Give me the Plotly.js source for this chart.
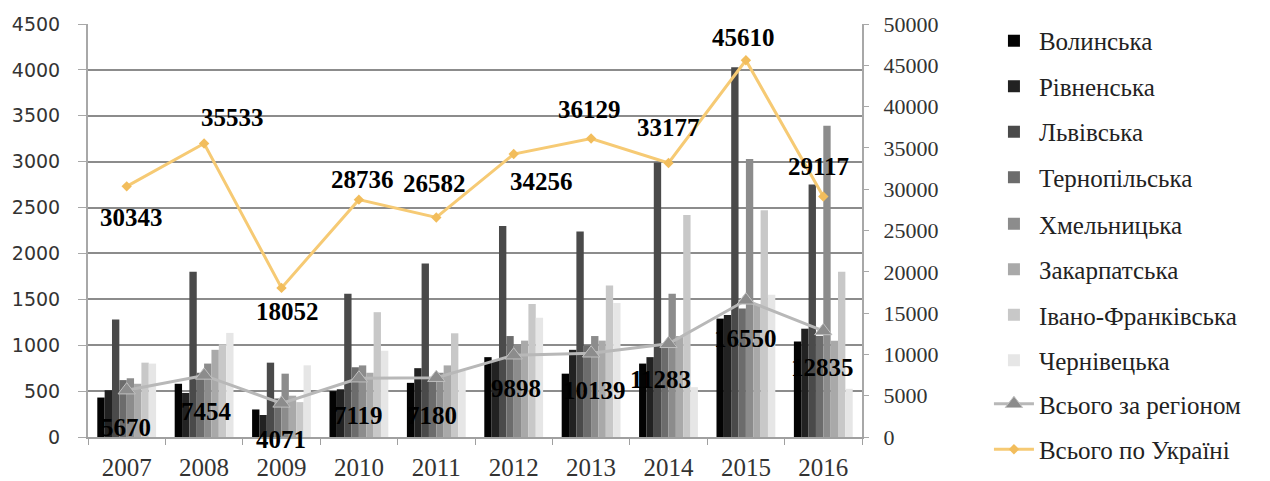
<!DOCTYPE html>
<html>
<head>
<meta charset="utf-8">
<script src="https://cdn.plot.ly/plotly-3.0.1.min.js"></script>
<style>html,body{margin:0;padding:0;background:#fff;}#chart{width:1270px;height:481px;}</style>
</head>
<body>
<div id="chart"></div>
<script>
// ---- data ----
const years = ["2007","2008","2009","2010","2011","2012","2013","2014","2015","2016"];
const regionNames = ["Волинська","Рівненська","Львівська","Тернопільська","Хмельницька","Закарпатська","Івано-Франківська","Чернівецька"];
const volynska      = [430, 580, 300, 500, 590, 870, 690, 800, 1290, 1040];
const rivnenska     = [510, 480, 240, 520, 750, 830, 950, 870, 1330, 1180];
const lvivska       = [1280, 1800, 810, 1560, 1890, 2300, 2240, 2990, 4030, 2750];
const ternopilska   = [620, 700, 420, 760, 620, 1100, 1000, 1000, 1400, 1100];
const khmelnytska   = [640, 800, 690, 780, 700, 1000, 1100, 1560, 3030, 3390];
const zakarpatska   = [580, 950, 450, 700, 780, 1050, 1050, 1100, 1450, 1050];
const ivanofrank    = [810, 1010, 380, 1360, 1130, 1450, 1650, 2420, 2470, 1800];
const chernivetska  = [800, 1134, 781, 939, 720, 1298, 1459, 543, 1550, 525];
const totalRegion   = [5670, 7454, 4071, 7119, 7180, 9898, 10139, 11283, 16550, 12835];
const totalUkraine  = [30343, 35533, 18052, 28736, 26582, 34256, 36129, 33177, 45610, 29117];
const lineNames = ["Всього за регіоном","Всього по Україні"];

// ---- styles ----
const barColors = ["#030303","#222222","#4a4a4a","#6c6c6c","#8c8c8c","#a9a9a9","#c8c8c8","#e6e6e6"];
const ukrShift = [[5,-31],[28,26],[6,-24],[4,20],[-2,34],[28,-27],[-2,29],[0,35],[-2,23],[-5,30]];
const regShift = [[-1,-37],[2,-36],[-1,-36],[0,-37],[-4,-38],[2,-33],[3,-37],[-8,-36],[0,-38],[-1,-37]];
const barLegend = ["legend","legend","legend","legend","legend2","legend2","legend2","legend2"];

const barSeries = [volynska, rivnenska, lvivska, ternopilska, khmelnytska, zakarpatska, ivanofrank, chernivetska];
const traces = barSeries.map((vals, i) => ({
  type: "bar", x: years, y: vals, name: regionNames[i],
  marker: {color: barColors[i], line: {width: 0}},
  legend: barLegend[i], legendgroup: "g" + i
}));
traces.push({
  type: "scatter", mode: "lines+markers", x: years, y: totalRegion, yaxis: "y2",
  name: lineNames[0], legend: "legend3", legendgroup: "g8",
  line: {color: "#b8b8b8", width: 3},
  marker: {symbol: "triangle-up", size: 15, color: "#8c8c8c", line: {color: "#c0c0c0", width: 1}}
});
traces.push({
  type: "scatter", mode: "lines+markers", x: years, y: totalUkraine, yaxis: "y2",
  name: lineNames[1], legend: "legend3", legendgroup: "g9",
  line: {color: "#f6ca74", width: 3},
  marker: {symbol: "diamond", size: 8, color: "#f2bd5c"}
});

const labelFont = {family: "Liberation Serif, Times New Roman, serif", size: 25, color: "#000"};
const annotations = [];
years.forEach((yr, i) => {
  annotations.push({x: i, y: totalUkraine[i], xref: "x", yref: "y2", text: "<b>" + totalUkraine[i] + "</b>",
    showarrow: false, xshift: ukrShift[i][0], yshift: ukrShift[i][1], font: labelFont});
  annotations.push({x: i, y: totalRegion[i], xref: "x", yref: "y2", text: "<b>" + totalRegion[i] + "</b>",
    showarrow: false, xshift: regShift[i][0], yshift: regShift[i][1], font: labelFont});
});

const legendFont = {family: "Liberation Serif, Times New Roman, serif", size: 25, color: "#222"};
const legendBase = {xref: "container", yref: "container", x: 0.7787, xanchor: "left", yanchor: "top", font: legendFont,
  traceorder: "grouped", tracegroupgap: 10, bgcolor: "rgba(0,0,0,0)", itemwidth: 40};
const layout = {
  width: 1270, height: 481,
  margin: {l: 88, r: 408, t: 24, b: 44, pad: 0},
  paper_bgcolor: "#fff", plot_bgcolor: "#fff",
  barmode: "group", bargap: 0.24, bargroupgap: 0,
  showlegend: true,
  legend: Object.assign({}, legendBase, {y: 0.9626}),
  legend2: Object.assign({}, legendBase, {y: 0.5821}),
  legend3: Object.assign({}, legendBase, {y: 0.2079}),
  xaxis: {type: "category", range: [-0.5, 9.5], autorange: false, showline: true, linecolor: "#a0a0a0", linewidth: 2,
    ticks: "outside", tickson: "boundaries", ticklen: 6, tickcolor: "#a0a0a0", tickwidth: 1,
    tickfont: {family: "Liberation Serif, Times New Roman, serif", size: 25, color: "#333"},
    ticklabelstandoff: 7, showgrid: false, tickangle: 0, automargin: false},
  yaxis: {range: [0, 4500], autorange: false, dtick: 500, showgrid: true, gridcolor: "#8c8c8c", gridwidth: 2,
    showline: true, linecolor: "#a8a8a8", linewidth: 2, zeroline: false,
    ticks: "outside", ticklen: 8, tickcolor: "#a8a8a8",
    tickfont: {family: "DejaVu Sans, Verdana, sans-serif", size: 19, color: "#333"},
    ticklabelstandoff: 14, automargin: false},
  yaxis2: {range: [0, 50000], autorange: false, dtick: 5000, tickformat: "d", overlaying: "y", side: "right", showgrid: false,
    showline: true, linecolor: "#a8a8a8", linewidth: 2, zeroline: false,
    ticks: "outside", ticklen: 5, tickcolor: "#a8a8a8",
    tickfont: {family: "Liberation Serif, Times New Roman, serif", size: 22, color: "#333"},
    ticklabelstandoff: 10, automargin: false},
  annotations: annotations
};

Plotly.newPlot("chart", traces, layout, {staticPlot: true, displayModeBar: false});
</script>
</body>
</html>
